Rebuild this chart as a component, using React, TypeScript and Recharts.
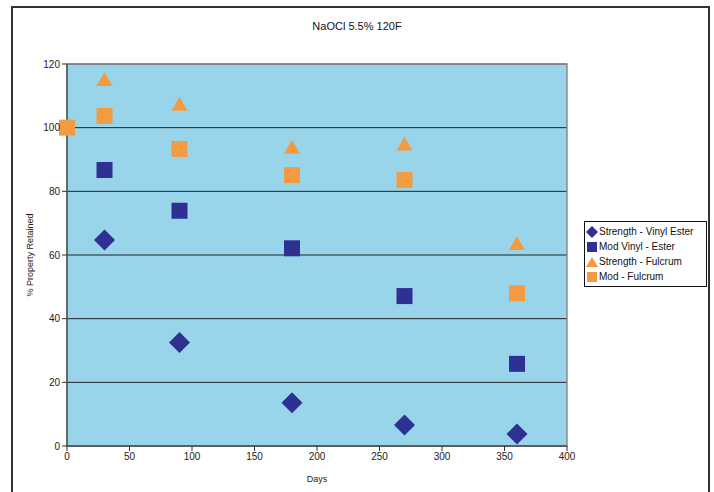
import React from "react";
import {
  ScatterChart,
  Scatter,
  XAxis,
  YAxis,
  CartesianGrid,
  ReferenceArea,
} from "recharts";

const days = [30, 90, 180, 270, 360];
const daysModFulcrum = [0, 30, 90, 180, 270, 360];
const strengthVinylEster = [64.7, 32.5, 13.6, 6.6, 3.8];
const modVinylEster = [86.7, 73.9, 62.1, 47.1, 25.8];
const strengthFulcrum = [115.3, 107.5, 94.0, 95.0, 63.8];
const modFulcrum = [100, 103.7, 93.3, 85.1, 83.6, 48.0];
const xTicks = [0, 50, 100, 150, 200, 250, 300, 350, 400];
const yTicks = [0, 20, 40, 60, 80, 100, 120];

const NAVY = "#2e3192";
const ORANGE = "#f39b41";
const FONT = "Liberation Sans, Arial, sans-serif";

const toPoints = (xs: number[], ys: number[]) => xs.map((x, i) => ({ x, y: ys[i] }));

const dataSVE = toPoints(days, strengthVinylEster);
const dataMVE = toPoints(days, modVinylEster);
const dataSF = toPoints(days, strengthFulcrum);
const dataMF = toPoints(daysModFulcrum, modFulcrum);

const Diamond = (p: any) => {
  const { cx, cy } = p;
  const r = 10.5;
  return (
    <polygon
      points={`${cx},${cy - r} ${cx + r},${cy} ${cx},${cy + r} ${cx - r},${cy}`}
      fill={NAVY}
    />
  );
};
const NavySquare = (p: any) => {
  const { cx, cy } = p;
  return <rect x={cx - 8} y={cy - 8} width={16} height={16} fill={NAVY} />;
};
const OrangeSquare = (p: any) => {
  const { cx, cy } = p;
  return <rect x={cx - 8} y={cy - 8} width={16} height={16} fill={ORANGE} />;
};
const Triangle = (p: any) => {
  const { cx, cy } = p;
  return (
    <polygon
      points={`${cx},${cy - 7} ${cx + 8},${cy + 7} ${cx - 8},${cy + 7}`}
      fill={ORANGE}
    />
  );
};

const legendItems = [
  { name: "Strength - Vinyl Ester", kind: "diamond" },
  { name: "Mod Vinyl - Ester", kind: "navySquare" },
  { name: "Strength - Fulcrum", kind: "triangle" },
  { name: "Mod - Fulcrum", kind: "orangeSquare" },
];

const LegendIcon = ({ kind }: { kind: string }) => {
  if (kind === "diamond")
    return (
      <svg width={12} height={12}>
        <polygon points="6,0 12,6 6,12 0,6" fill={NAVY} />
      </svg>
    );
  if (kind === "triangle")
    return (
      <svg width={12} height={12}>
        <polygon points="6,1 12,11 0,11" fill={ORANGE} />
      </svg>
    );
  return (
    <svg width={12} height={12}>
      <rect x={1} y={1} width={10} height={10} fill={kind === "navySquare" ? NAVY : ORANGE} />
    </svg>
  );
};

const LegendBox = () => (
  <div
    style={{
      position: "absolute",
      left: 584,
      top: 221,
      border: "1px solid #111",
      background: "#fff",
      width: 123,
      height: 66,
      boxSizing: "border-box",
      padding: "2px 0 0 1px",
      fontFamily: FONT,
      fontSize: 10,
      color: "#111",
    }}
  >
    {legendItems.map((it) => (
      <div key={it.name} style={{ display: "flex", alignItems: "center", height: 15, whiteSpace: "nowrap" }}>
        <LegendIcon kind={it.kind} />
        <span style={{ marginLeft: 1 }}>{it.name}</span>
      </div>
    ))}
  </div>
);

export default function App() {
  return (
    <div style={{ position: "absolute", left: 0, top: 0, width: 714, height: 492, background: "#fff", overflow: "hidden" }}>
      <div
        style={{
          position: "absolute",
          left: 11,
          top: 6,
          width: 699,
          height: 500,
          border: "2px solid #333",
          boxSizing: "border-box",
        }}
      />
      <div
        style={{
          position: "absolute",
          left: 0,
          width: 714,
          top: 20,
          textAlign: "center",
          fontFamily: FONT,
          fontSize: 11,
          color: "#111",
        }}
      >
        NaOCl 5.5% 120F
      </div>
      <div style={{ position: "absolute", left: 0, top: 0 }}>
        <ScatterChart width={714} height={492} margin={{ top: 64, right: 147, bottom: 0, left: 0 }}>
          <CartesianGrid vertical={false} fill="#99d5ea" stroke="#222" strokeWidth={1} fillOpacity={1} />
          <ReferenceArea x1={0} x2={400} y1={0} y2={120} fill="none" stroke="#8a8a8a" strokeWidth={1.5} ifOverflow="visible" />
          <XAxis
            type="number"
            dataKey="x"
            domain={[0, 400]}
            ticks={xTicks}
            interval={0}
            tickSize={5}
            height={46}
            stroke="#333"
            tick={{ fill: "#222", fontSize: 10, fontFamily: FONT }}
            label={{ value: "Days", position: "insideBottom", offset: 10, fill: "#222", fontSize: 9, fontFamily: FONT }}
          />
          <YAxis
            type="number"
            dataKey="y"
            domain={[0, 120]}
            ticks={yTicks}
            interval={0}
            tickSize={5}
            width={67}
            stroke="#333"
            tick={{ fill: "#222", fontSize: 10, fontFamily: FONT }}
            label={{
              value: "% Property Retained",
              angle: -90,
              position: "insideLeft",
              offset: 30,
              style: { textAnchor: "middle" },
              fill: "#222",
              fontSize: 9,
              fontFamily: FONT,
            }}
          />
          <Scatter name="Strength - Vinyl Ester" data={dataSVE} shape={Diamond} isAnimationActive={false} />
          <Scatter name="Mod Vinyl - Ester" data={dataMVE} shape={NavySquare} isAnimationActive={false} />
          <Scatter name="Strength - Fulcrum" data={dataSF} shape={Triangle} isAnimationActive={false} />
          <Scatter name="Mod - Fulcrum" data={dataMF} shape={OrangeSquare} isAnimationActive={false} />
        </ScatterChart>
      </div>
      <LegendBox />
    </div>
  );
}
